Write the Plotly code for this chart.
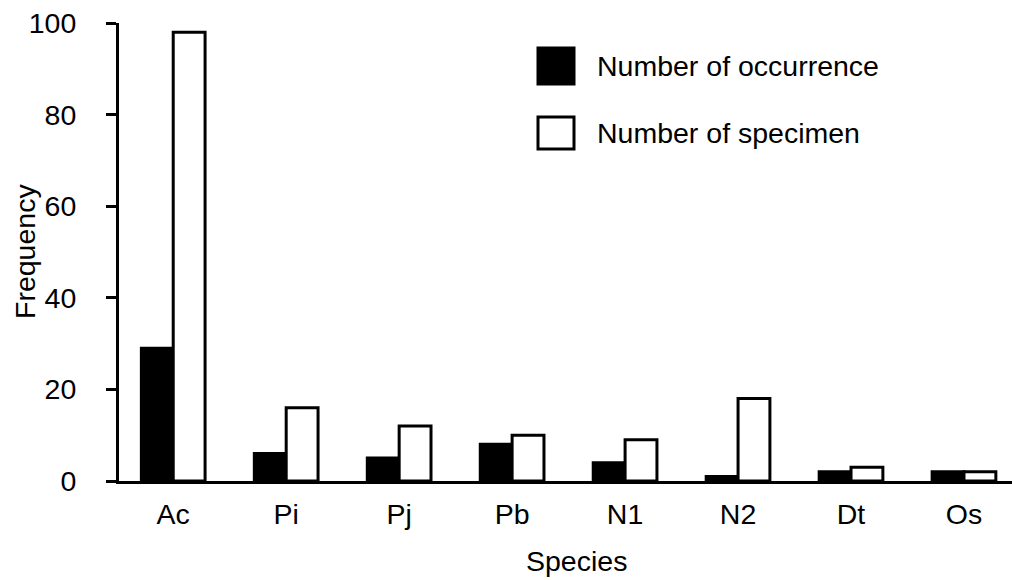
import plotly.graph_objects as go

# Species abbreviations and counts
species = ["Ac", "Pi", "Pj", "Pb", "N1", "N2", "Dt", "Os"]
occurrence = [29, 6, 5, 8, 4, 1, 2, 2]
specimen = [98, 16, 12, 10, 9, 18, 3, 2]
y_ticks = [0, 20, 40, 60, 80, 100]
legend_labels = ["Number of occurrence", "Number of specimen"]
x_title, y_title = "Species", "Frequency"

W, H = 1012, 580
L, R, T, B = 119, 0, 23, 99
FONT = dict(family="Liberation Sans, Arial, sans-serif", size=28.5, color="black")

fig = go.Figure()
fig.add_trace(go.Bar(x=species, y=occurrence, name=legend_labels[0],
                     marker=dict(color="black", line=dict(color="black", width=3))))
fig.add_trace(go.Bar(x=species, y=specimen, name=legend_labels[1],
                     marker=dict(color="white", line=dict(color="black", width=3))))

pw, ph = W - L - R, H - T - B


def px_x(p):
    return (p - L) / pw


def px_y(p):
    return (H - B - p) / ph


# Hand-built legend with large swatches
shapes = []
annotations = []
swatches = [(48, 84, "black"), (117, 149, "white")]
for (y0, y1, fill), label in zip(swatches, legend_labels):
    shapes.append(dict(type="rect", xref="paper", yref="paper",
                       x0=px_x(538), x1=px_x(574), y0=px_y(y1), y1=px_y(y0),
                       fillcolor=fill, line=dict(color="black", width=3)))
    annotations.append(dict(xref="paper", yref="paper", x=px_x(595), y=px_y((y0 + y1) / 2),
                            text=label, showarrow=False, xanchor="left", yanchor="middle",
                            font=FONT))

# Axis titles placed as free text
annotations.append(dict(xref="paper", yref="paper", x=px_x(576), y=px_y(561),
                        text=x_title, showarrow=False, xanchor="center", yanchor="middle",
                        borderpad=0, font=FONT))
annotations.append(dict(xref="paper", yref="paper", x=px_x(25), y=px_y(252),
                        text=y_title, showarrow=False, xanchor="center", yanchor="middle",
                        textangle=-90, font=FONT))

fig.update_layout(
    width=W, height=H,
    margin=dict(l=L, r=R, t=T, b=B),
    paper_bgcolor="white", plot_bgcolor="white",
    barmode="group", bargap=0.436, bargroupgap=0,
    showlegend=False,
    font=FONT,
    shapes=shapes, annotations=annotations,
    xaxis=dict(range=[-0.48, 7.425], showline=True, linecolor="black", linewidth=3,
               ticks="", showgrid=False, zeroline=False, ticklabelstandoff=6),
    yaxis=dict(range=[0, 100], tickvals=y_ticks, showline=True, linecolor="black", linewidth=3,
               ticks="outside", ticklen=10, tickwidth=3, tickcolor="black",
               showgrid=False, zeroline=False, ticklabelstandoff=24),
)

fig.write_html("out.html")
